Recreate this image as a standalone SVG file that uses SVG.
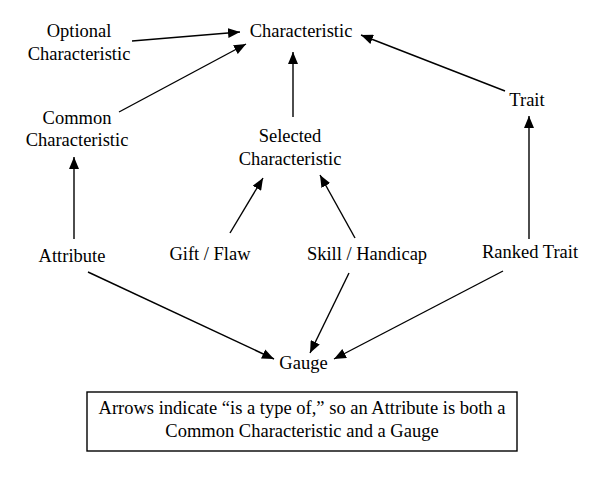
<svg xmlns="http://www.w3.org/2000/svg" width="603" height="477" viewBox="0 0 603 477">
<style>
text{font-family:"Liberation Serif","Times New Roman",serif;font-size:18.5px;fill:#000;text-anchor:middle}
.c{stroke:#000;stroke-width:1.4;fill:none;marker-end:url(#ah)}
</style>
<defs>
<marker id="ah" markerUnits="userSpaceOnUse" markerWidth="12" markerHeight="10" viewBox="0 0 12 10" refX="12" refY="5" orient="auto">
<path d="M0,0 L12,5 L0,10 Z" fill="#000"/>
</marker>
</defs>
<rect width="603" height="477" fill="#fff"/>
<g id="connectors">
<line class="c" x1="132" y1="41" x2="240" y2="32"/>
<line class="c" x1="119" y1="112" x2="246" y2="44"/>
<line class="c" x1="293" y1="117" x2="293" y2="52"/>
<line class="c" x1="505" y1="91" x2="361" y2="35"/>
<line class="c" x1="74" y1="239" x2="74" y2="157"/>
<line class="c" x1="230" y1="233" x2="263" y2="178"/>
<line class="c" x1="355" y1="238" x2="320" y2="175"/>
<line class="c" x1="529" y1="239" x2="529" y2="116"/>
<line class="c" x1="88" y1="272" x2="274" y2="359"/>
<line class="c" x1="349" y1="273" x2="310" y2="353"/>
<line class="c" x1="503" y1="271" x2="334" y2="359"/>
</g>
<g id="characteristic"><text x="301" y="37">Characteristic</text></g>
<g id="optional"><text x="79" y="37">Optional</text><text x="79" y="60">Characteristic</text></g>
<g id="common"><text x="77" y="124">Common</text><text x="77" y="146">Characteristic</text></g>
<g id="selected"><text x="290" y="142">Selected</text><text x="290" y="165">Characteristic</text></g>
<g id="trait"><text x="527" y="106">Trait</text></g>
<g id="attribute"><text x="72" y="262">Attribute</text></g>
<g id="giftflaw"><text x="210" y="260">Gift / Flaw</text></g>
<g id="skill"><text x="367" y="260">Skill / Handicap</text></g>
<g id="ranked"><text x="530" y="258">Ranked Trait</text></g>
<g id="gauge"><text x="303.5" y="369">Gauge</text></g>
<g id="note">
<rect x="87" y="392" width="430" height="59" fill="none" stroke="#000" stroke-width="1.4"/>
<text x="302" y="414">Arrows indicate “is a type of,” so an Attribute is both a</text>
<text x="302" y="437">Common Characteristic and a Gauge</text>
</g>
</svg>
